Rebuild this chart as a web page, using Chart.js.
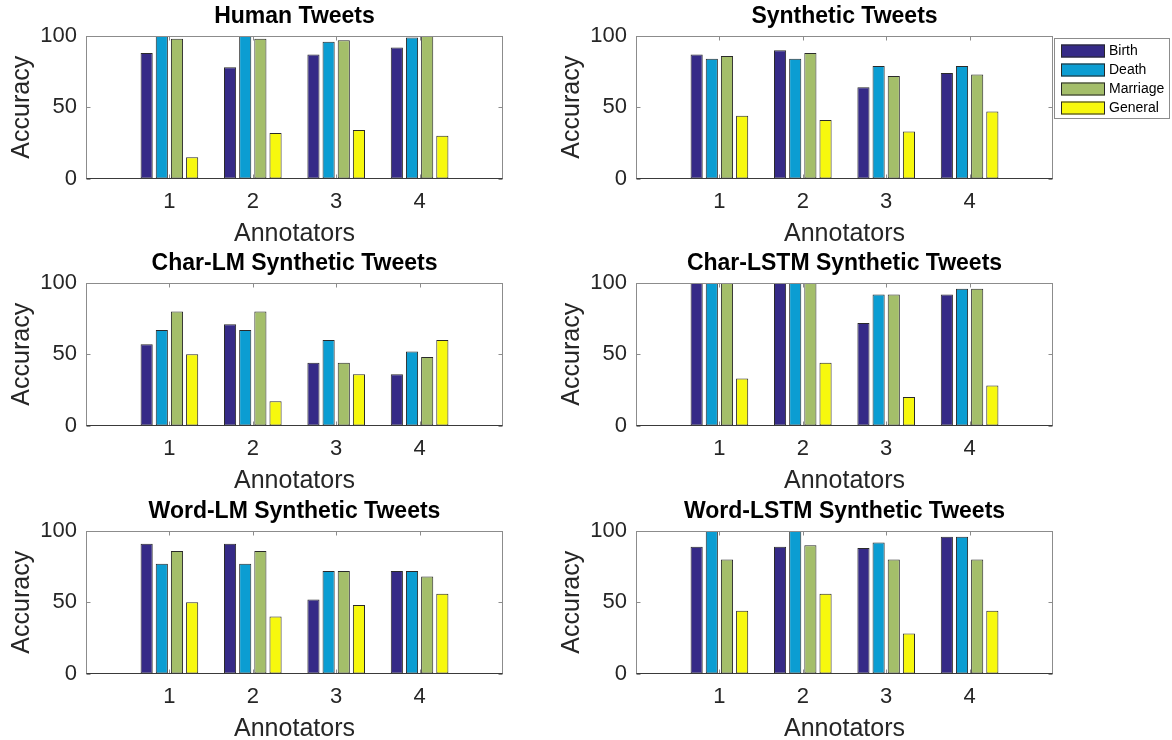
<!DOCTYPE html>
<html>
<head>
<meta charset="utf-8">
<script src="https://cdn.jsdelivr.net/npm/chart.js@4.4.1/dist/chart.umd.min.js"></script>
<style>
  html, body { margin: 0; padding: 0; background: #fff; }
  body { position: relative; width: 1172px; height: 740px; overflow: hidden; }
  canvas { position: absolute; }
</style>
</head>
<body>
<script>
// ---------------- DATA ----------------
const annotators = [1, 2, 3, 4];
const seriesNames = ['Birth', 'Death', 'Marriage', 'General'];
const seriesColors = ['#352A87', '#0B9DD2', '#A4BE6A', '#F7F80E'];
const yTicks = [0, 50, 100];

const panelTitles = [
  'Human Tweets', 'Synthetic Tweets',
  'Char-LM Synthetic Tweets', 'Char-LSTM Synthetic Tweets',
  'Word-LM Synthetic Tweets', 'Word-LSTM Synthetic Tweets'
];

// each row = one series (Birth, Death, Marriage, General), each column = annotator 1..4
const humanTweets      = [[88, 78, 87, 92], [100, 100, 96, 99], [98, 98, 97, 100], [15, 32, 34, 30]];
const syntheticTweets  = [[87, 90, 64, 74], [84, 84, 79, 79], [86, 88, 72, 73], [44, 41, 33, 47]];
const charLmTweets     = [[57, 71, 44, 36], [67, 67, 60, 52], [80, 80, 44, 48], [50, 17, 36, 60]];
const charLstmTweets   = [[100, 100, 72, 92], [100, 100, 92, 96], [100, 100, 92, 96], [33, 44, 20, 28]];
const wordLmTweets     = [[91, 91, 52, 72], [77, 77, 72, 72], [86, 86, 72, 68], [50, 40, 48, 56]];
const wordLstmTweets   = [[89, 89, 88, 96], [100, 100, 92, 96], [80, 90, 80, 80], [44, 56, 28, 44]];

const panelData = [humanTweets, syntheticTweets, charLmTweets, charLstmTweets, wordLmTweets, wordLstmTweets];

// ---------------- LAYOUT ----------------
const FONT = '"Liberation Sans", Arial, Helvetica, sans-serif';
const TEXT = '#262626';
const colLeft = [0, 550];
const colWidth = [549, 622];
const rowTop = [0, 247, 495];
const CANVAS_H = 251;
const PLOT_RIGHT = 503;

const boxPlugin = {
  id: 'matlabBox',
  afterDatasetsDraw(chart) {
    const { ctx, chartArea: a, scales } = chart;
    const xs = scales.x, ys = scales.y;
    const L = Math.round(a.left) + 0.5, R = Math.round(a.right) - 0.5;
    const T = Math.round(a.top) + 0.5, B = Math.round(a.bottom) - 0.5;
    ctx.save();
    ctx.strokeStyle = '#8c8c8c';
    ctx.lineWidth = 1;
    ctx.strokeRect(L, T, R - L, B - T);
    const tl = 4;
    ctx.beginPath();
    annotators.forEach(v => {
      const px = Math.round(xs.getPixelForValue(v)) + 0.5;
      ctx.moveTo(px, B); ctx.lineTo(px, B - tl);
      ctx.moveTo(px, T); ctx.lineTo(px, T + tl);
    });
    yTicks.forEach(v => {
      const py = Math.round(ys.getPixelForValue(v)) + 0.5;
      ctx.moveTo(L, py); ctx.lineTo(L + tl, py);
      ctx.moveTo(R, py); ctx.lineTo(R - tl, py);
    });
    ctx.stroke();
    // bar baseline
    const by = Math.round(ys.getPixelForValue(0)) - 0.5;
    ctx.strokeStyle = '#3a3a3a';
    ctx.beginPath(); ctx.moveTo(L, by); ctx.lineTo(R, by); ctx.stroke();
    ctx.restore();
  }
};

const legendPlugin = {
  id: 'matlabLegend',
  afterDraw(chart, args, opts) {
    if (!opts || !opts.show) return;
    const ctx = chart.ctx;
    const x0 = 504, y0 = 38, w = 115, h = 80;
    ctx.save();
    ctx.fillStyle = '#fff';
    ctx.fillRect(x0, y0, w, h);
    ctx.strokeStyle = '#8c8c8c';
    ctx.lineWidth = 1;
    ctx.strokeRect(x0 + 0.5, y0 + 0.5, w, h);
    chart.data.datasets.forEach((ds, i) => {
      const cy = 51 + i * 19;
      ctx.fillStyle = ds.backgroundColor;
      ctx.fillRect(x0 + 7, cy - 6.5, 44, 13);
      ctx.strokeStyle = '#262626';
      ctx.strokeRect(x0 + 7.5, cy - 6, 43, 12);
      ctx.fillStyle = '#000';
      ctx.font = '14px ' + FONT;
      ctx.textBaseline = 'middle';
      ctx.textAlign = 'left';
      ctx.fillText(ds.label, x0 + 55, cy + 0.5);
    });
    ctx.restore();
  }
};

panelData.forEach((series, p) => {
  const col = p % 2, row = Math.floor(p / 2);
  const cv = document.createElement('canvas');
  cv.width = colWidth[col];
  cv.height = CANVAS_H;
  cv.style.left = colLeft[col] + 'px';
  cv.style.top = rowTop[row] + 'px';
  cv.style.width = colWidth[col] + 'px';
  cv.style.height = CANVAS_H + 'px';
  document.body.appendChild(cv);

  new Chart(cv, {
    type: 'bar',
    data: {
      datasets: seriesNames.map((name, s) => ({
        label: name,
        data: annotators.map((a, i) => ({ x: a, y: series[s][i] })),
        backgroundColor: seriesColors[s],
        borderColor: '#2a2a2a',
        borderWidth: 1,
        borderSkipped: false,
        categoryPercentage: 4 / 5.5,
        barPercentage: 0.8
      }))
    },
    options: {
      responsive: false,
      animation: false,
      devicePixelRatio: 1,
      layout: { padding: { left: 0, right: colWidth[col] - PLOT_RIGHT, top: 0, bottom: 0 } },
      plugins: {
        legend: { display: false },
        tooltip: { enabled: false },
        title: {
          display: true,
          text: panelTitles[p],
          fullSize: false,
          color: '#000',
          font: { family: FONT, size: 23, weight: 'bold', lineHeight: 1 },
          padding: { top: 5.5, bottom: 7.5 }
        },
        matlabLegend: { show: p === 1 }
      },
      scales: {
        x: {
          type: 'linear',
          min: 0, max: 5,
          offset: false,
          grid: { display: false, drawTicks: false },
          border: { display: false },
          ticks: {
            stepSize: 1,
            autoSkip: false,
            maxRotation: 0,
            padding: 10.5,
            color: TEXT,
            font: { family: FONT, size: 22 },
            callback: v => annotators.includes(v) ? String(v) : ''
          },
          title: {
            display: true,
            text: 'Annotators',
            color: TEXT,
            font: { family: FONT, size: 25 },
            padding: { top: 0, bottom: 2 }
          },
          afterFit: s => { s.height = 72.5; }
        },
        y: {
          min: 0, max: 100,
          grid: { display: false, drawTicks: false },
          border: { display: false },
          ticks: {
            stepSize: 50,
            padding: 9,
            color: TEXT,
            font: { family: FONT, size: 22 },
            callback: v => yTicks.includes(v) ? String(v) : ''
          },
          title: {
            display: true,
            text: 'Accuracy',
            color: TEXT,
            font: { family: FONT, size: 25 },
            padding: { top: 7, bottom: 0 }
          },
          afterFit: s => { s.width = 86; }
        }
      }
    },
    plugins: [boxPlugin, legendPlugin]
  });
});
</script>
</body>
</html>
